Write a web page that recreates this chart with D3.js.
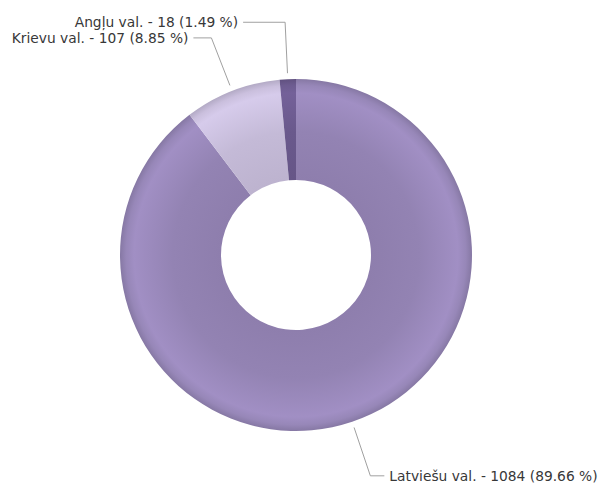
<!DOCTYPE html>
<html>
<head>
  <meta charset="utf-8" />
  <script src="https://d3js.org/d3.v7.min.js"></script>
  <style>
    body { margin: 0; background: #fff; }
    text { font-family: "DejaVu Sans", sans-serif; font-size: 13.8px; fill: #383838; }
  </style>
</head>
<body>
  <svg id="chart" width="604" height="487"></svg>
  <script>
    // data
    const labels = ["Latviešu val.", "Krievu val.", "Angļu val."];
    const counts = [1084, 107, 18];
    const percents = ["89.66", "8.85", "1.49"];
    const colors = ["#9383b3", "#c4bad7", "#6a598c"];

    const svg = d3.select("#chart");
    const cx = 296, cy = 255;
    const outerR = 176, innerR = 75;
    // horizontal connector length per label
    const connector = [14, 18, 42];

    const g = svg.append("g").attr("transform", "translate(" + cx + "," + cy + ")");

    const pie = d3.pie().sort(null).value(d => d);
    const arcs = pie(counts);
    const arc = d3.arc().innerRadius(innerR).outerRadius(outerR);

    const defs = svg.append("defs");
    colors.forEach((c, i) => {
      const base = d3.color(c);
      const grad = defs.append("radialGradient")
        .attr("id", "grad" + i)
        .attr("gradientUnits", "userSpaceOnUse")
        .attr("cx", 0).attr("cy", 0).attr("r", outerR);
      const stops = [
        [0, base.darker(0.15)],
        [innerR / outerR, base.darker(0.1)],
        [0.7, base],
        [0.92, base.brighter(0.25)],
        [0.965, base.brighter(0.08)],
        [1, base.darker(0.25)]
      ];
      stops.forEach(s => grad.append("stop").attr("offset", s[0]).attr("stop-color", s[1].formatHex()));
    });

    g.selectAll("path.slice")
      .data(arcs)
      .join("path")
      .attr("class", "slice")
      .attr("d", arc)
      .attr("fill", (d, i) => "url(#grad" + i + ")");

    // leader lines and labels
    const pt = (a, r) => [r * Math.sin(a), -r * Math.cos(a)];
    arcs.forEach((d, i) => {
      const mid = (d.startAngle + d.endAngle) / 2;
      const p0 = pt(mid, outerR + 6);
      const p1 = pt(mid, outerR + 57);
      const right = Math.sin(mid) > 0;
      const p2 = [p1[0] + (right ? connector[i] : -connector[i]), p1[1]];
      g.append("path")
        .attr("d", d3.line()([p0, p1, p2]))
        .attr("fill", "none")
        .attr("stroke", "#a0a0a0")
        .attr("stroke-width", 1);
      g.append("text")
        .attr("x", p2[0] + (right ? 5 : -5))
        .attr("y", p2[1])
        .attr("dy", "0.35em")
        .attr("text-anchor", right ? "start" : "end")
        .text(labels[i] + " - " + counts[i] + " (" + percents[i] + " %)");
    });
  </script>
</body>
</html>
